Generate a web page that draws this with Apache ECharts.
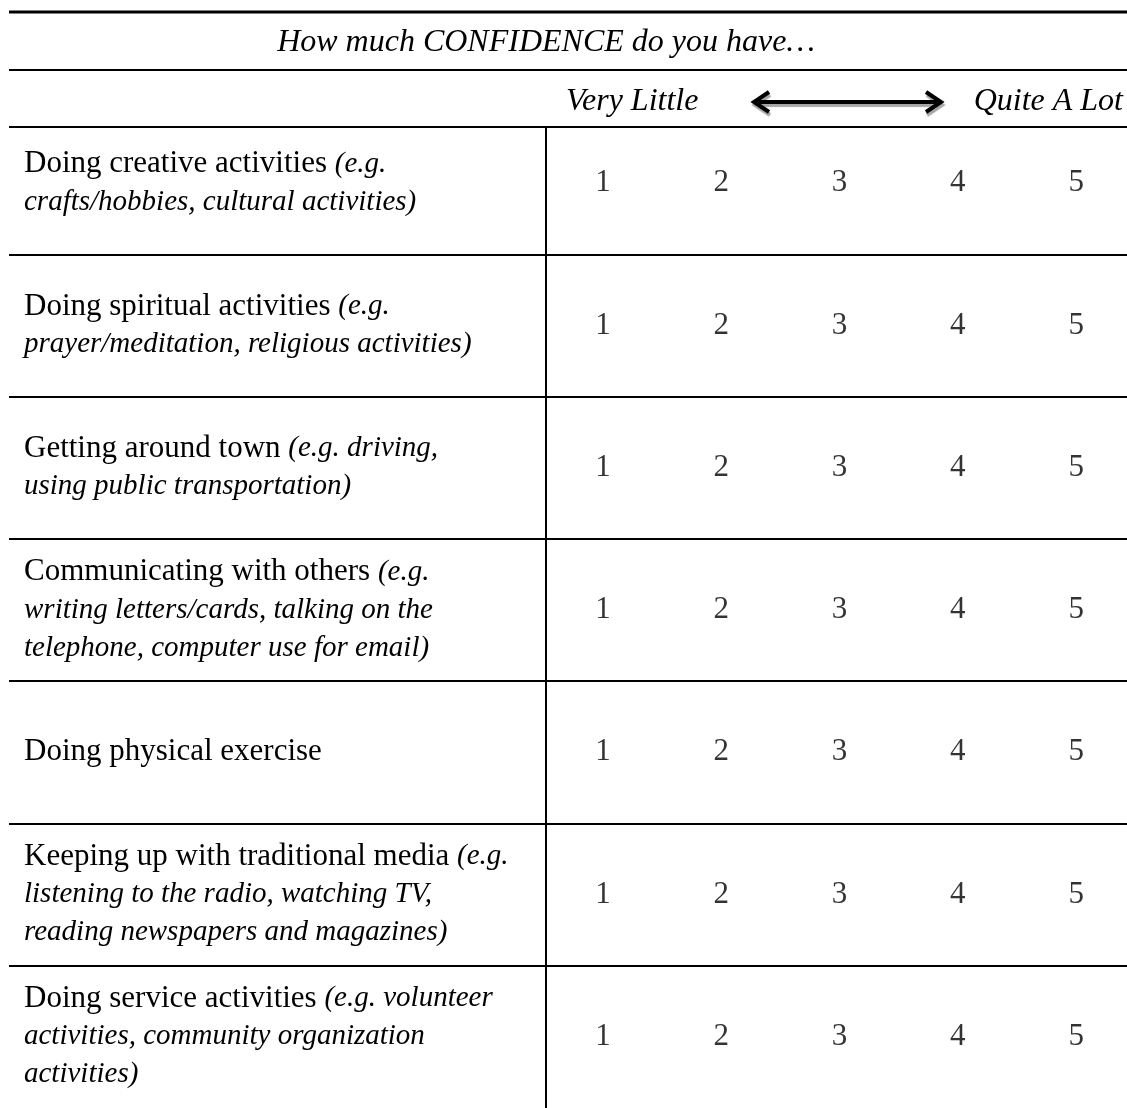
<!DOCTYPE html>
<html>
<head>
<meta charset="utf-8">
<script src="https://cdn.jsdelivr.net/npm/echarts@6/dist/echarts.min.js"></script>
<style>
html,body{margin:0;padding:0;background:#fff;}
#chart{width:1127px;height:1108px;}
</style>
</head>
<body>
<div id="chart"></div>
<script>
// ---- data ----
const titleText = 'How much CONFIDENCE do you have\u2026';
const lowLabel = 'Very Little';
const highLabel = 'Quite A Lot';
const scaleValues = [1, 2, 3, 4, 5];
const rowKeys = ['creative', 'spiritual', 'town', 'communicating', 'physical', 'media', 'service'];
// each row: list of lines, each line = [upright part, italic part]
const rowLabels = [
  [['Doing creative activities ', '(e.g.'], ['', 'crafts/hobbies, cultural activities)']],
  [['Doing spiritual activities ', '(e.g.'], ['', 'prayer/meditation, religious activities)']],
  [['Getting around town ', '(e.g. driving,'], ['', 'using public transportation)']],
  [['Communicating with others ', '(e.g.'], ['', 'writing letters/cards, talking on the'], ['', 'telephone, computer use for email)']],
  [['Doing physical exercise', '']],
  [['Keeping up with traditional media ', '(e.g.'], ['', 'listening to the radio, watching TV,'], ['', 'reading newspapers and magazines)']],
  [['Doing service activities ', '(e.g. volunteer'], ['', 'activities, community organization'], ['', 'activities)']]
];

// ---- build ----
const FONT = '"Liberation Serif", "Times New Roman", serif';
const points = [];
rowKeys.forEach(function (k) {
  scaleValues.forEach(function (v) { points.push([v, k]); });
});

const shadow = {shadowColor: 'rgba(0,0,0,0.35)', shadowOffsetX: 1, shadowOffsetY: 3, shadowBlur: 1};
const chart = echarts.init(document.getElementById('chart'), null, {renderer: 'canvas'});
const option = {
  backgroundColor: '#fff',
  animation: false,
  grid: {left: 9, right: 0, top: 112, bottom: 0, containLabel: false},
  xAxis: {type: 'value', min: -4.02, max: 5.43, show: false},
  yAxis: {
    type: 'category',
    data: rowKeys,
    inverse: true,
    axisLine: {show: false},
    axisTick: {show: false},
    splitLine: {show: true, showMinLine: false, showMaxLine: false, interval: 0, lineStyle: {color: '#000', width: 2}},
    axisLabel: {
      inside: true,
      margin: 15,
      align: 'left',
      interval: 0,
      formatter: function (value, idx) {
        return rowLabels[idx].map(function (ln) {
          return (ln[0] ? '{n|' + ln[0] + '}' : '') + (ln[1] ? '{i|' + ln[1] + '}' : '');
        }).join('\n');
      },
      rich: {
        n: {fontFamily: FONT, fontSize: 31, color: '#000', lineHeight: 38},
        i: {fontFamily: FONT, fontSize: 29, fontStyle: 'italic', color: '#000', lineHeight: 38}
      }
    }
  },
  series: [{
    type: 'scatter',
    data: points,
    symbolSize: 1,
    itemStyle: {color: 'rgba(0,0,0,0)'},
    silent: true,
    label: {
      show: true,
      position: 'inside',
      formatter: function (p) { return String(p.value[0]); },
      fontFamily: FONT,
      fontSize: 31,
      color: '#000'
    }
  }],
  graphic: [
    {type: 'line', shape: {x1: 9, y1: 12, x2: 1127, y2: 12}, style: {stroke: '#000', lineWidth: 3}},
    {type: 'text', x: 546, y: 43, style: {text: titleText, font: 'italic 32px ' + FONT, fill: '#000', textAlign: 'center', textVerticalAlign: 'middle'}},
    {type: 'line', shape: {x1: 9, y1: 70, x2: 1127, y2: 70}, style: {stroke: '#000', lineWidth: 2}},
    {type: 'text', x: 566, y: 102, style: {text: lowLabel, font: 'italic 32px ' + FONT, fill: '#000', textAlign: 'left', textVerticalAlign: 'middle'}},
    {type: 'text', x: 1123, y: 102, style: {text: highLabel, font: 'italic 32px ' + FONT, fill: '#000', textAlign: 'right', textVerticalAlign: 'middle'}},
    {type: 'group', children: [
      {type: 'line', shape: {x1: 757, y1: 102, x2: 937, y2: 102}, style: Object.assign({stroke: '#000', lineWidth: 4}, shadow)},
      {type: 'polyline', shape: {points: [[769, 92], [754, 102], [769, 112]]}, style: Object.assign({stroke: '#000', fill: null, lineWidth: 4, lineJoin: 'miter'}, shadow)},
      {type: 'polyline', shape: {points: [[926, 92], [941, 102], [926, 112]]}, style: Object.assign({stroke: '#000', fill: null, lineWidth: 4, lineJoin: 'miter'}, shadow)}
    ]},
    {type: 'line', shape: {x1: 9, y1: 127, x2: 1127, y2: 127}, style: {stroke: '#000', lineWidth: 2}},
    {type: 'line', shape: {x1: 546, y1: 127, x2: 546, y2: 1108}, style: {stroke: '#000', lineWidth: 2}}
  ]
};
chart.setOption(option);
</script>
</body>
</html>
